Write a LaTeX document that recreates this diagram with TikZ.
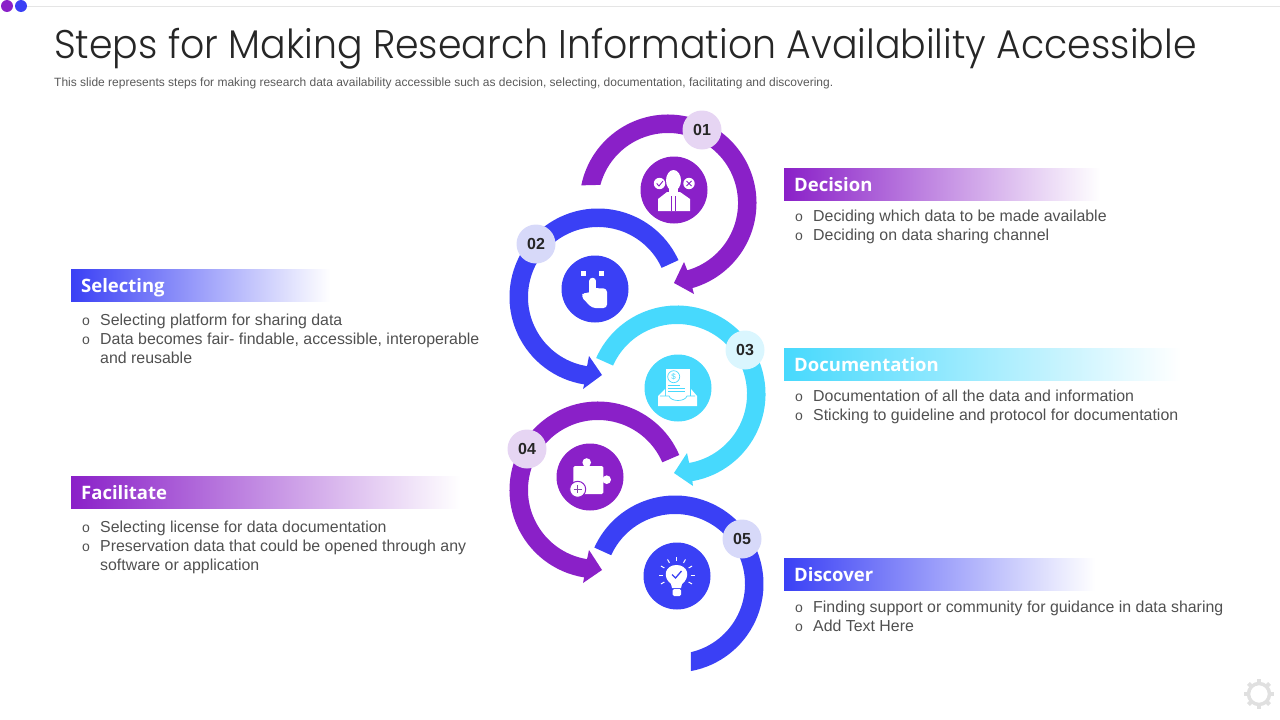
\documentclass[tikz,border=0pt]{standalone}
\usepackage{fontspec}
\setmainfont{Liberation Sans}
\newfontfamily\titlefont{Poppins Light}[FakeStretch=0.947]
\newfontfamily\headfont{Open Sans}
\definecolor{stepPurple}{HTML}{8A20C8}
\definecolor{stepBlue}{HTML}{3A40F5}
\definecolor{stepCyan}{HTML}{47D9FD}
\definecolor{badgePurple}{HTML}{E6D5F3}
\definecolor{badgeBlue}{HTML}{D7D9F9}
\definecolor{badgeCyan}{HTML}{DAF6FE}
\definecolor{bodyGray}{HTML}{505050}
\tikzset{
  badge/.style={circle, minimum size=39pt, inner sep=0pt, font=\fontsize{16}{16}\bfseries, text=black!85},
  iconDisc/.style={circle, minimum size=67pt, inner sep=0pt},
  headBar/.style={anchor=west, minimum height=32pt, inner ysep=0pt, inner xsep=10pt, text height=15pt, text depth=1pt, text=white, align=left, font=\headfont\fontsize{18.5}{20}\bfseries},
  listItem/.style={anchor=base west, inner sep=0pt, text=bodyGray, font=\fontsize{15.9}{16}\selectfont},
  listMark/.style={anchor=base, inner sep=0pt, text=bodyGray, font=\fontsize{14}{14}\selectfont},
}
% colour, centre, outer start, inner start, outer end, inner end, tip points
\newcommand{\ringArc}[7]{
  \fill[#1] ([shift={(#2)}]#3:88.5) arc[start angle=#3, end angle=#5, radius=88.5] #7
    -- ([shift={(#2)}]#6:70) arc[start angle=#6, end angle=#4, radius=70] -- cycle;
}
\begin{document}
\begin{tikzpicture}[x=1pt, y=1pt]
    \useasboundingbox (0,-720) rectangle (1280,0);
    % top rule
    \coordinate (ruleL) at (27,-6.5);
    \coordinate (ruleR) at (1280,-6.5);
    \draw[color=black!10, line width=1pt] (ruleL) -- (ruleR);
    \fill[stepPurple] (7,-6) circle (6);
    \fill[stepBlue] (21,-6) circle (6);
    % title
    \node[anchor=base west, inner sep=0pt, text=black!85, font=\titlefont\fontsize{40}{40}\selectfont] (title) at (54,-58) {Steps for Making Research Information Availability Accessible};
    \node[anchor=base west, inner sep=0pt, text=black!65, font=\fontsize{12}{12}\selectfont] (subtitle) at (54,-86) {This slide represents steps for making research data availability accessible such as decision, selecting, documentation, facilitating and discovering.};

    % rings
    \ringArc{stepPurple}{668,-203}{168.5}{165}{-74}{-74}{-- (694,-294) -- (674,-283) -- (684,-262)}
    \ringArc{stepBlue}{598,-297}{24.6}{24.6}{261}{261}{-- (583,-389) -- (602,-375) -- (589,-356)}
    \ringArc{stepCyan}{677,-394}{156}{156}{-80}{-80}{-- (693,-486) -- (674,-473) -- (687,-453)}
    \ringArc{stepPurple}{598,-490}{23.3}{23.3}{261}{261}{-- (583,-583) -- (602,-570) -- (589,-550)}
    \ringArc{stepBlue}{675,-584}{155.7}{155.7}{-79.6}{-76.8}{}

    % discs
    \node[iconDisc, fill=stepPurple] (disc1) at (674,-190) {};
    \node[iconDisc, fill=stepBlue] (disc2) at (595,-289) {};
    \node[iconDisc, fill=stepCyan] (disc3) at (678,-388) {};
    \node[iconDisc, fill=stepPurple] (disc4) at (590,-477) {};
    \node[iconDisc, fill=stepBlue] (disc5) at (677,-576) {};

    % badges
    \node[badge, fill=badgePurple] (badge1) at (702,-130) {01};
    \node[badge, fill=badgeBlue] (badge2) at (536,-244) {02};
    \node[badge, fill=badgeCyan] (badge3) at (745,-350) {03};
    \node[badge, fill=badgePurple] (badge4) at (527,-449) {04};
    \node[badge, fill=badgeBlue] (badge5) at (742,-539) {05};

    % icon 1: person with marks
    \fill[white] (658,-211) -- (658,-199) -- (667,-192) -- (680,-192) -- (690,-199) -- (690,-211) -- cycle;
    \fill[white] (673.5,-180.5) ellipse (7.5 and 10.5);
    \fill[white] (669,-186) rectangle (678,-195);
    \draw[stepPurple, line width=0.7pt] (671.7,-196) -- (671.7,-211) (675.5,-196) -- (675.5,-211);
    \fill[white] (659.5,-183.5) circle (5.7);
    \fill[white] (689,-183.5) circle (5.7);
    \draw[stepPurple, line width=0.9pt] (656.7,-183.5) -- (659,-186) -- (663,-181);
    \draw[stepPurple, line width=0.9pt] (686.5,-181) -- (691.5,-186) (686.5,-186) -- (691.5,-181);

    % icon 2: pointing hand
    \fill[white] (581.2,-270.8) rectangle (586.2,-275.8);
    \fill[white] (598.8,-270.8) rectangle (603.8,-275.8);
    \draw[white, line width=6.5pt, line cap=round] (592.7,-281) -- (592.7,-296);
    \fill[white, rounded corners=3.5pt] (590,-288) -- (607,-288.5) -- (607,-308) -- (592,-308) -- (581,-296.5) -- (584,-292) -- (589.5,-294) -- cycle;

    % icon 3: paper in tray
    \fill[white] (666,-369) rectangle (690,-398);
    \draw[stepCyan, line width=0.7pt] (673.7,-376.7) circle (6);
    \node[inner sep=0pt, text=stepCyan, font=\fontsize{8}{8}\selectfont] (dollar) at (673.7,-376.7) {\$};
    \draw[stepCyan, line width=0.7pt] (668,-385.7) -- (680,-385.7) (668,-388.7) -- (685,-388.7) (668,-391.7) -- (685,-391.7);
    \fill[white] (658,-406) -- (658,-396) -- (665,-389) -- (665,-396) -- (691,-396) -- (691,-389) -- (697,-396) -- (697,-406) -- cycle;
    \draw[stepCyan, line width=0.7pt] (660,-396) -- (669,-396) .. controls (671,-402) and (685,-402) .. (687,-396) -- (695,-396);

    % icon 4: puzzle piece
    \fill[white, rounded corners=1.5pt] (573.3,-466) rectangle (603.3,-494);
    \fill[white] (586.7,-462.5) circle (4.3);
    \fill[white] (606.7,-479.7) circle (4.3);
    \fill[white, draw=stepPurple, line width=1pt] (577.7,-489.3) circle (8);
    \draw[stepPurple!60!gray, line width=0.6pt] (573.7,-489.3) -- (581.7,-489.3) (577.7,-485.3) -- (577.7,-493.3);

    % icon 5: bulb with rays
    \fill[white] (671,-584) .. controls (662,-577) and (665,-565) .. (676.5,-565) .. controls (688,-565) and (691,-577) .. (682,-584) -- (681,-588) -- (672,-588) -- cycle;
    \fill[white, rounded corners=1.5pt] (672.5,-589) rectangle (681,-596);
    \draw[stepBlue, line width=1.3pt] (672,-574.5) -- (675.5,-578) -- (681.5,-571);
    \foreach \a in {-30,0,...,210}
      \draw[white, line width=1pt] ([shift={(676.5,-575)}]\a:14) -- ([shift={(676.5,-575)}]\a:18);

    % right column
    \node[headBar, left color=stepPurple, right color=white, minimum width=316pt, text width=296pt] (decision) at (784,-184) {Decision};
    \node[listMark] (m1a) at (799,-221) {o};
    \node[listItem] (t1a) at (813,-221) {Deciding which data to be made available};
    \node[listMark] (m1b) at (799,-240) {o};
    \node[listItem] (t1b) at (813,-240) {Deciding on data sharing channel};

    \node[headBar, left color=stepCyan, right color=white, minimum width=396pt, text width=376pt] (documentation) at (784,-364) {Documentation};
    \node[listMark] (m3a) at (799,-401) {o};
    \node[listItem] (t3a) at (813,-401) {Documentation of all the data and information};
    \node[listMark] (m3b) at (799,-420) {o};
    \node[listItem] (t3b) at (813,-420) {Sticking to guideline and protocol for documentation};

    \node[headBar, left color=stepBlue, right color=white, minimum width=311pt, text width=291pt] (discover) at (784,-574) {Discover};
    \node[listMark] (m5a) at (799,-612) {o};
    \node[listItem] (t5a) at (813,-612) {Finding support or community for guidance in data sharing};
    \node[listMark] (m5b) at (799,-631) {o};
    \node[listItem] (t5b) at (813,-631) {Add Text Here};

    % left column
    \node[headBar, left color=stepBlue, right color=white, minimum width=259pt, text width=239pt] (selecting) at (71,-285.5) {Selecting};
    \node[listMark] (m2a) at (86,-325) {o};
    \node[listItem] (t2a) at (100,-325) {Selecting platform for sharing data};
    \node[listMark] (m2b) at (86,-344) {o};
    \node[listItem] (t2b) at (100,-344) {Data becomes fair- findable, accessible, interoperable};
    \node[listItem] (t2c) at (100,-363) {and reusable};

    \node[headBar, left color=stepPurple, right color=white, minimum width=389pt, text width=369pt] (facilitate) at (71,-492.5) {Facilitate};
    \node[listMark] (m4a) at (86,-532) {o};
    \node[listItem] (t4a) at (100,-532) {Selecting license for data documentation};
    \node[listMark] (m4b) at (86,-551) {o};
    \node[listItem] (t4b) at (100,-551) {Preservation data that could be opened through any};
    \node[listItem] (t4c) at (100,-570) {software or application};

    % gear
    \draw[black!12, line width=3.5pt] (1259,-694) circle (10.5);
    \foreach \a in {0,45,...,315}
      \draw[black!12, line width=4pt] ([shift={(1259,-694)}]\a:11) -- ([shift={(1259,-694)}]\a:15);
\end{tikzpicture}
\end{document}
